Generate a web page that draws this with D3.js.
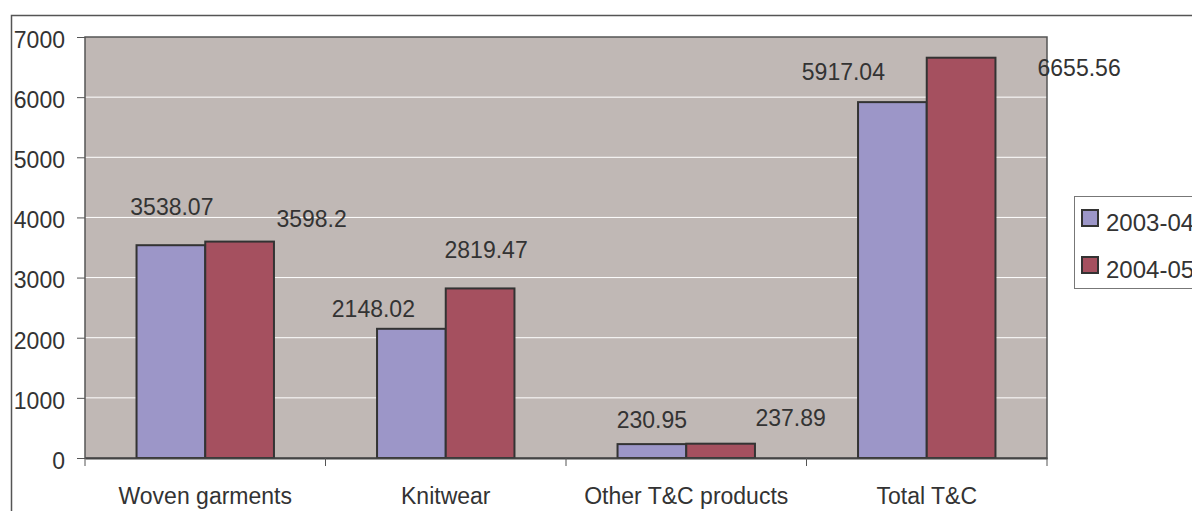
<!DOCTYPE html>
<html>
<head>
<meta charset="utf-8">
<script src="https://cdn.jsdelivr.net/npm/d3@7"></script>
<style>
  body { margin: 0; background: #fff; }
  text { font-family: "Liberation Sans", Arial, sans-serif; fill: #333; }
</style>
</head>
<body>
<script>
// data
var categories = ['Woven garments', 'Knitwear', 'Other T&C products', 'Total T&C'];
var seriesNames = ['2003-04', '2004-05'];
var values2003 = [3538.07, 2148.02, 230.95, 5917.04];
var values2004 = [3598.2, 2819.47, 237.89, 6655.56];
var yTicks = [0, 1000, 2000, 3000, 4000, 5000, 6000, 7000];

// hand-placed label nudges (px from bar top centre), like the original
var nudge2003 = [[1, -38], [-38, -20], [0, -24], [-49, -30]];
var nudge2004 = [[72, -23], [6, -38], [70, -26], [118, 10]];

var colors = ['#9c96c8', '#a5505f'];

var width = 1192, height = 511;
var plot = { left: 85, right: 1047, top: 37, bottom: 458 };

var svg = d3.select('body').append('svg')
    .attr('width', width)
    .attr('height', height);

// outer chart border (runs off the page right and bottom)
svg.append('rect')
    .attr('x', 11.5).attr('y', 15.5)
    .attr('width', 1300).attr('height', 600)
    .attr('fill', 'none')
    .attr('stroke', '#555')
    .attr('stroke-width', 1.5);

var x = d3.scaleBand()
    .domain(categories)
    .range([plot.left, plot.right]);

var xInner = d3.scaleBand()
    .domain(seriesNames)
    .range([0, x.bandwidth()])
    .paddingOuter(0.75);

var y = d3.scaleLinear()
    .domain([0, 7000])
    .range([plot.bottom, plot.top]);

// plot area
svg.append('rect')
    .attr('x', plot.left).attr('y', plot.top)
    .attr('width', plot.right - plot.left)
    .attr('height', plot.bottom - plot.top)
    .attr('fill', '#c0b8b5');

// gridlines
svg.append('g').selectAll('line')
    .data(yTicks.filter(function(d) { return d > 0 && d < 7000; }))
    .enter().append('line')
    .attr('x1', plot.left).attr('x2', plot.right)
    .attr('y1', function(d) { return y(d); })
    .attr('y2', function(d) { return y(d); })
    .attr('stroke', '#fff')
    .attr('stroke-width', 1);

svg.append('rect')
    .attr('x', plot.left).attr('y', plot.top)
    .attr('width', plot.right - plot.left)
    .attr('height', plot.bottom - plot.top)
    .attr('fill', 'none')
    .attr('stroke', '#555')
    .attr('stroke-width', 1.5);

// bars
var rows = categories.map(function(c, i) {
    return [
        { cat: c, s: seriesNames[0], v: values2003[i], n: nudge2003[i], k: 0 },
        { cat: c, s: seriesNames[1], v: values2004[i], n: nudge2004[i], k: 1 }
    ];
});
var bars = d3.merge(rows);

svg.append('g').selectAll('rect')
    .data(bars)
    .enter().append('rect')
    .attr('x', function(d) { return x(d.cat) + xInner(d.s); })
    .attr('y', function(d) { return y(d.v); })
    .attr('width', xInner.bandwidth())
    .attr('height', function(d) { return y(0) - y(d.v); })
    .attr('fill', function(d) { return colors[d.k]; })
    .attr('stroke', '#333')
    .attr('stroke-width', 2);

// data labels
svg.append('g').selectAll('text')
    .data(bars)
    .enter().append('text')
    .attr('x', function(d) { return x(d.cat) + xInner(d.s) + xInner.bandwidth() / 2 + d.n[0]; })
    .attr('y', function(d) { return y(d.v) + d.n[1]; })
    .attr('text-anchor', 'middle')
    .attr('dy', '0.35em')
    .style('font-size', '23px')
    .text(function(d) { return d.v; });

// y axis
var yAxis = svg.append('g')
    .attr('transform', 'translate(' + plot.left + ',0)')
    .call(d3.axisLeft(y).tickValues(yTicks).tickSize(8).tickPadding(12).tickFormat(d3.format('d')));
yAxis.select('.domain').remove();
yAxis.selectAll('line').attr('stroke', '#555');
yAxis.selectAll('text')
    .attr('dy', '0.45em')
    .style('font-size', '23px')
    .style('font-family', '"Liberation Sans", Arial, sans-serif')
    .attr('fill', '#333');

// x axis
var xAxis = svg.append('g')
    .attr('transform', 'translate(0,' + plot.bottom + ')')
    .call(d3.axisBottom(x).tickSize(0).tickPadding(30));
xAxis.select('.domain').attr('stroke', '#444').attr('stroke-width', 2);
xAxis.selectAll('text')
    .style('font-size', '23px')
    .style('font-family', '"Liberation Sans", Arial, sans-serif')
    .attr('fill', '#333');

// category boundary ticks
svg.append('g').selectAll('line')
    .data(categories.concat(['end']))
    .enter().append('line')
    .attr('x1', function(d, i) { return i < categories.length ? x(d) : plot.right; })
    .attr('x2', function(d, i) { return i < categories.length ? x(d) : plot.right; })
    .attr('y1', plot.bottom)
    .attr('y2', plot.bottom + 8)
    .attr('stroke', '#555');

// legend
var legend = svg.append('g');
legend.append('rect')
    .attr('x', 1074.5).attr('y', 196.5)
    .attr('width', 200).attr('height', 92)
    .attr('fill', '#fff')
    .attr('stroke', '#777')
    .attr('stroke-width', 1);

var item = legend.selectAll('g.item')
    .data(seriesNames)
    .enter().append('g')
    .attr('class', 'item')
    .attr('transform', function(d, i) { return 'translate(1082,' + (210 + i * 47) + ')'; });
item.append('rect')
    .attr('width', 16).attr('height', 16)
    .attr('fill', function(d, i) { return colors[i]; })
    .attr('stroke', '#333')
    .attr('stroke-width', 2);
item.append('text')
    .attr('x', 24)
    .attr('y', 13)
    .attr('dy', '0.35em')
    .style('font-size', '24px')
    .text(function(d) { return d; });
</script>
</body>
</html>
